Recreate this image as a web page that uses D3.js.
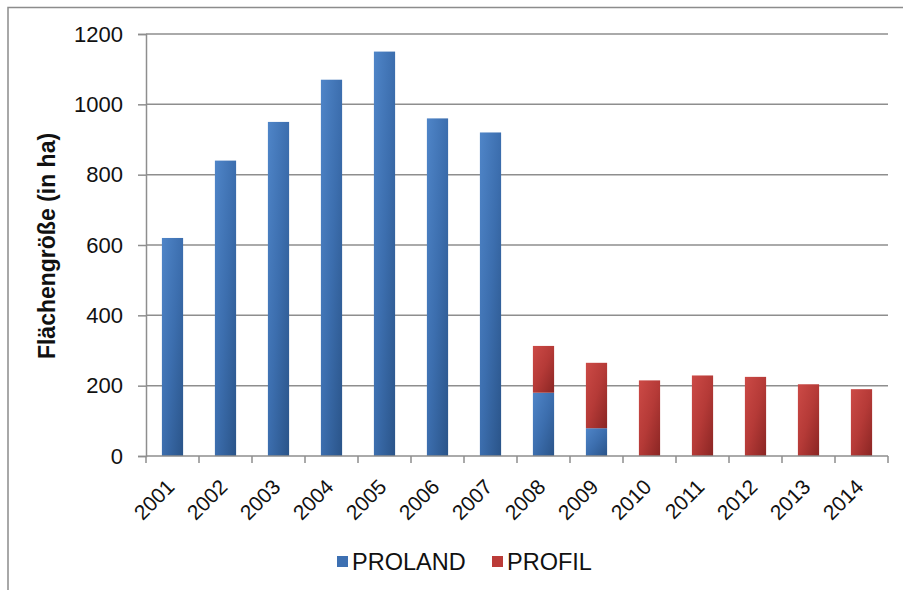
<!DOCTYPE html>
<html><head><meta charset="utf-8">
<script src="https://cdn.jsdelivr.net/npm/d3@7"></script>
<style>body{margin:0;background:#fff;font-family:"Liberation Sans",Arial,sans-serif;}</style>
</head><body><svg id="c" width="903" height="590"></svg>
<script>
const years = ["2001","2002","2003","2004","2005","2006","2007","2008","2009","2010","2011","2012","2013","2014"];
const proland = [620,840,950,1070,1150,960,920,180,79,0,0,0,0,0];
const profil  = [0,0,0,0,0,0,0,133,186,215,229,225,204,190];
const seriesNames = ["PROLAND","PROFIL"];
const yTicks = [0,200,400,600,800,1000,1200];

const svg = d3.select("#c");
const defs = svg.append("defs");
function grad(id, c1, c2, c3){
  const g = defs.append("linearGradient").attr("id",id).attr("x1","0").attr("y1","0").attr("x2","1").attr("y2","1");
  g.append("stop").attr("offset","0").attr("stop-color",c1);
  g.append("stop").attr("offset","0.5").attr("stop-color",c2);
  g.append("stop").attr("offset","1").attr("stop-color",c3);
}
grad("gb","#4f85c8","#3c6eae","#2a5489");
grad("gr","#cc4a46","#b53a37","#8a2523");
const colors = {PROLAND:"url(#gb)", PROFIL:"url(#gr)"};
const legendColors = {PROLAND:"#3d70b2", PROFIL:"#bb3b38"};

// outer frame
svg.append("rect").attr("x",8).attr("y",7.5).attr("width",920).attr("height",600)
  .attr("fill","none").attr("stroke","#8c8c8c").attr("stroke-width",1.5);

const L=146, R=888, T=34, B=456;
const x = d3.scaleBand().domain(years).range([L,R]).paddingInner(0.6).paddingOuter(0.3);
const xb = d3.scaleBand().domain(years).range([L,R]);
const y = d3.scaleLinear().domain([0,1200]).range([B,T]);

// gridlines
svg.append("g").selectAll("line").data(yTicks.filter(d=>d>0)).join("line")
  .attr("x1",L).attr("x2",R).attr("y1",d=>y(d)).attr("y2",d=>y(d))
  .attr("stroke","#8e8e8e").attr("stroke-width",1.5);

// bars
const data = years.map((yr,i)=>({yr, a:proland[i], b:profil[i]}));
const stack = d3.stack().keys(["a","b"])(data);
stack.forEach((layer,k)=>{
  svg.append("g").selectAll("rect").data(layer.filter(d=>d[1]-d[0]>0)).join("rect")
    .attr("x",d=>x(d.data.yr)).attr("width",x.bandwidth())
    .attr("y",d=>y(d[1])).attr("height",d=>y(d[0])-y(d[1]))
    .attr("fill",colors[seriesNames[k]]);
});

// y axis
const ya = svg.append("g").attr("transform",`translate(${L},0)`)
  .call(d3.axisLeft(y).tickValues(yTicks).tickSize(8).tickPadding(15).tickFormat(d3.format("d")));
ya.select(".domain").attr("stroke","#8e8e8e").attr("stroke-width",1.5);
ya.selectAll(".tick line").attr("stroke","#8e8e8e").attr("stroke-width",1.5);
ya.selectAll("text").attr("font-size",22).attr("fill","#111").attr("font-family","Liberation Sans, Arial, sans-serif");

// x axis
const xa = svg.append("g").attr("transform",`translate(0,${B})`)
  .call(d3.axisBottom(xb).tickSize(0).tickFormat(""));
xa.select(".domain").attr("stroke","#8e8e8e").attr("stroke-width",1.5).attr("d",`M${L},0H${R}`);
svg.append("g").selectAll("line").data(d3.range(years.length+1)).join("line")
  .attr("x1",i=>L+i*xb.step()).attr("x2",i=>L+i*xb.step())
  .attr("y1",B).attr("y2",B+7).attr("stroke","#8e8e8e").attr("stroke-width",1.5);
svg.append("g").selectAll("text").data(years).join("text")
  .attr("transform",d=>`translate(${xb(d)+xb.bandwidth()/2-2},${B+27}) rotate(-45)`)
  .attr("text-anchor","end").attr("dy","0.35em")
  .attr("font-size",21).attr("fill","#111").text(d=>d);

// y title
svg.append("text").attr("transform","translate(55,246) rotate(-90)")
  .attr("text-anchor","middle").attr("font-size",23).attr("font-weight","bold").attr("fill","#111")
  .text("Flächengröße (in ha)");

// legend
const lg = svg.append("g");
const lx = [337, 492];
seriesNames.forEach((n,i)=>{
  lg.append("rect").attr("x",lx[i]).attr("y",556).attr("width",11).attr("height",11).attr("fill",legendColors[n]);
  lg.append("text").attr("x",lx[i]+15).attr("y",562).attr("dy","0.35em")
    .attr("font-size",23.5).attr("fill","#111").text(n);
});
</script></body></html>
